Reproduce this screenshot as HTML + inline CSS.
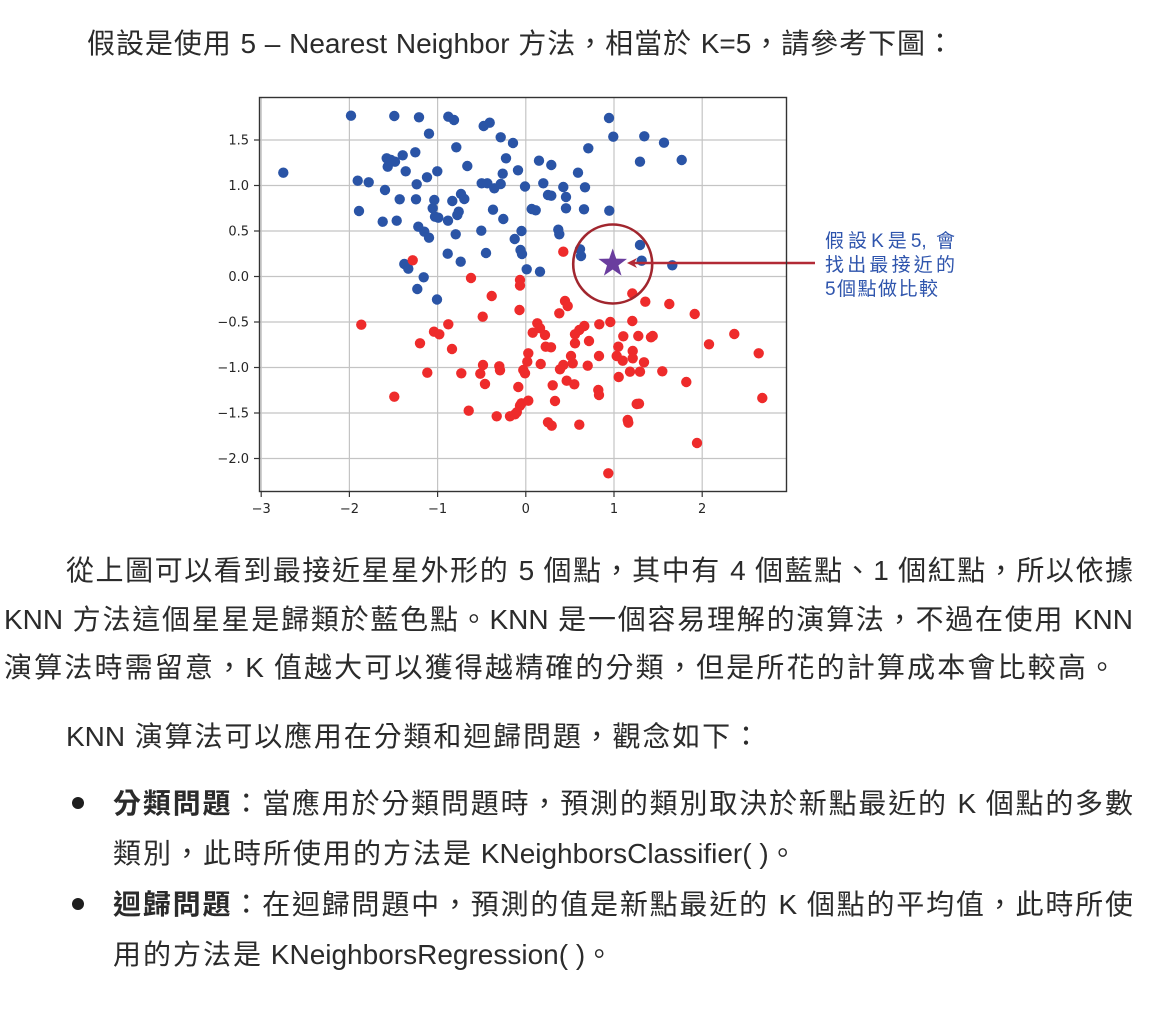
<!DOCTYPE html>
<html>
<head>
<meta charset="utf-8">
<style>
  html,body{margin:0;padding:0;background:#fff;}
  body{width:1167px;height:1019px;position:relative;overflow:hidden;
       font-family:"Liberation Sans","Noto Sans CJK TC",sans-serif;color:#2b2b2b;}
  .ln{position:absolute;font-size:28px;line-height:30px;height:30px;
      text-align:justify;text-align-last:justify;white-space:normal;}
  .ln.nat{text-align:left;text-align-last:left;white-space:nowrap;}
  .ln b{font-weight:bold;}
  .sp{letter-spacing:2px;}
  .bul{position:absolute;width:12px;height:12px;border-radius:50%;background:#1e1e1e;}
  .ann{position:absolute;left:825px;font-size:19px;line-height:24px;color:#2f55ad;
       font-family:"Liberation Sans","Noto Sans CJK TC",sans-serif;}
  .ann div{text-align:justify;text-align-last:justify;height:24px;}
  svg{position:absolute;left:0;top:0;}
</style>
</head>
<body>

<svg width="1167" height="530" viewBox="0 0 1167 530" xmlns="http://www.w3.org/2000/svg">
  <g stroke="#c4c4c4" stroke-width="1.2" fill="none">
    <line x1="261.2" y1="97.5" x2="261.2" y2="491.5"/>
    <line x1="349.4" y1="97.5" x2="349.4" y2="491.5"/>
    <line x1="437.6" y1="97.5" x2="437.6" y2="491.5"/>
    <line x1="525.8" y1="97.5" x2="525.8" y2="491.5"/>
    <line x1="614" y1="97.5" x2="614" y2="491.5"/>
    <line x1="702.2" y1="97.5" x2="702.2" y2="491.5"/>
    <line x1="259.5" y1="140" x2="786.5" y2="140"/>
    <line x1="259.5" y1="185.5" x2="786.5" y2="185.5"/>
    <line x1="259.5" y1="231" x2="786.5" y2="231"/>
    <line x1="259.5" y1="276.5" x2="786.5" y2="276.5"/>
    <line x1="259.5" y1="322" x2="786.5" y2="322"/>
    <line x1="259.5" y1="367.5" x2="786.5" y2="367.5"/>
    <line x1="259.5" y1="413" x2="786.5" y2="413"/>
    <line x1="259.5" y1="458.5" x2="786.5" y2="458.5"/>
  </g>

  <g fill="#2a54a6">
    <circle cx="283.3" cy="172.7" r="5.2"/>
    <circle cx="351" cy="115.7" r="5.2"/>
    <circle cx="394.3" cy="116" r="5.2"/>
    <circle cx="419" cy="117.3" r="5.2"/>
    <circle cx="448.3" cy="116.7" r="5.2"/>
    <circle cx="454" cy="120" r="5.2"/>
    <circle cx="483.7" cy="126" r="5.2"/>
    <circle cx="489.7" cy="122.7" r="5.2"/>
    <circle cx="429" cy="133.7" r="5.2"/>
    <circle cx="500.7" cy="137.3" r="5.2"/>
    <circle cx="513" cy="143" r="5.2"/>
    <circle cx="456.3" cy="147.3" r="5.2"/>
    <circle cx="415.3" cy="152.3" r="5.2"/>
    <circle cx="402.7" cy="155.3" r="5.2"/>
    <circle cx="386.7" cy="158.3" r="5.2"/>
    <circle cx="395" cy="161.7" r="5.2"/>
    <circle cx="387.7" cy="166.7" r="5.2"/>
    <circle cx="391" cy="160" r="5.2"/>
    <circle cx="405.7" cy="171.3" r="5.2"/>
    <circle cx="437.3" cy="171.3" r="5.2"/>
    <circle cx="427" cy="177.3" r="5.2"/>
    <circle cx="467.3" cy="166" r="5.2"/>
    <circle cx="506" cy="158.3" r="5.2"/>
    <circle cx="518" cy="170.3" r="5.2"/>
    <circle cx="502.7" cy="173.7" r="5.2"/>
    <circle cx="357.7" cy="180.7" r="5.2"/>
    <circle cx="368.7" cy="182.3" r="5.2"/>
    <circle cx="416.7" cy="184.3" r="5.2"/>
    <circle cx="481.7" cy="183.3" r="5.2"/>
    <circle cx="487.3" cy="183.3" r="5.2"/>
    <circle cx="494.3" cy="188.3" r="5.2"/>
    <circle cx="500.7" cy="184" r="5.2"/>
    <circle cx="525" cy="186.5" r="5.2"/>
    <circle cx="385" cy="190" r="5.2"/>
    <circle cx="399.7" cy="199.3" r="5.2"/>
    <circle cx="416" cy="199.3" r="5.2"/>
    <circle cx="434.3" cy="200" r="5.2"/>
    <circle cx="432.7" cy="208.3" r="5.2"/>
    <circle cx="435" cy="216.7" r="5.2"/>
    <circle cx="438.3" cy="217.7" r="5.2"/>
    <circle cx="452.3" cy="201" r="5.2"/>
    <circle cx="461" cy="194" r="5.2"/>
    <circle cx="464.3" cy="199" r="5.2"/>
    <circle cx="458.7" cy="211.7" r="5.2"/>
    <circle cx="457.3" cy="215" r="5.2"/>
    <circle cx="359" cy="211" r="5.2"/>
    <circle cx="493" cy="209.7" r="5.2"/>
    <circle cx="503.3" cy="219" r="5.2"/>
    <circle cx="382.7" cy="221.7" r="5.2"/>
    <circle cx="396.7" cy="220.7" r="5.2"/>
    <circle cx="448" cy="220.7" r="5.2"/>
    <circle cx="418.3" cy="226.7" r="5.2"/>
    <circle cx="424.3" cy="231.7" r="5.2"/>
    <circle cx="429" cy="237.7" r="5.2"/>
    <circle cx="455.7" cy="234.3" r="5.2"/>
    <circle cx="481.3" cy="230.7" r="5.2"/>
    <circle cx="514.7" cy="239" r="5.2"/>
    <circle cx="521.5" cy="231" r="5.2"/>
    <circle cx="520.5" cy="250" r="5.2"/>
    <circle cx="522" cy="254" r="5.2"/>
    <circle cx="447.7" cy="253.7" r="5.2"/>
    <circle cx="460.7" cy="261.7" r="5.2"/>
    <circle cx="486" cy="253" r="5.2"/>
    <circle cx="404.3" cy="264" r="5.2"/>
    <circle cx="408.3" cy="268.7" r="5.2"/>
    <circle cx="423.7" cy="277.3" r="5.2"/>
    <circle cx="417.3" cy="289" r="5.2"/>
    <circle cx="437" cy="299.5" r="5.2"/>
    <circle cx="526.7" cy="269.3" r="5.2"/>
    <circle cx="609" cy="118" r="5.2"/>
    <circle cx="613.3" cy="136.7" r="5.2"/>
    <circle cx="644.3" cy="136.3" r="5.2"/>
    <circle cx="664" cy="142.7" r="5.2"/>
    <circle cx="588.3" cy="148.3" r="5.2"/>
    <circle cx="640" cy="161.7" r="5.2"/>
    <circle cx="681.7" cy="160" r="5.2"/>
    <circle cx="539" cy="160.7" r="5.2"/>
    <circle cx="551.3" cy="165" r="5.2"/>
    <circle cx="578" cy="172.7" r="5.2"/>
    <circle cx="543.3" cy="183.3" r="5.2"/>
    <circle cx="563.3" cy="187" r="5.2"/>
    <circle cx="585" cy="187.3" r="5.2"/>
    <circle cx="548" cy="195" r="5.2"/>
    <circle cx="551.3" cy="195.7" r="5.2"/>
    <circle cx="566" cy="197" r="5.2"/>
    <circle cx="531.7" cy="209" r="5.2"/>
    <circle cx="535.7" cy="210.3" r="5.2"/>
    <circle cx="566" cy="208.3" r="5.2"/>
    <circle cx="584" cy="209.3" r="5.2"/>
    <circle cx="609.3" cy="210.7" r="5.2"/>
    <circle cx="558.3" cy="229.7" r="5.2"/>
    <circle cx="559.3" cy="234.3" r="5.2"/>
    <circle cx="580" cy="249.3" r="5.2"/>
    <circle cx="581" cy="256" r="5.2"/>
    <circle cx="640" cy="245" r="5.2"/>
    <circle cx="641.7" cy="260.7" r="5.2"/>
    <circle cx="672.3" cy="265.3" r="5.2"/>
    <circle cx="540" cy="271.7" r="5.2"/>
  </g>

  <g fill="#ee2b2b">
    <circle cx="412.7" cy="260.3" r="5.2"/>
    <circle cx="471" cy="278" r="5.2"/>
    <circle cx="520" cy="280" r="5.2"/>
    <circle cx="520" cy="285.5" r="5.2"/>
    <circle cx="491.7" cy="296" r="5.2"/>
    <circle cx="563.3" cy="251.7" r="5.2"/>
    <circle cx="632.3" cy="293.5" r="5.2"/>
    <circle cx="482.7" cy="316.7" r="5.2"/>
    <circle cx="519.5" cy="310" r="5.2"/>
    <circle cx="361.3" cy="324.7" r="5.2"/>
    <circle cx="448.3" cy="324.3" r="5.2"/>
    <circle cx="434" cy="331.7" r="5.2"/>
    <circle cx="439.3" cy="334.3" r="5.2"/>
    <circle cx="420" cy="343.3" r="5.2"/>
    <circle cx="452" cy="349" r="5.2"/>
    <circle cx="483" cy="365" r="5.2"/>
    <circle cx="480.3" cy="373.7" r="5.2"/>
    <circle cx="485" cy="384" r="5.2"/>
    <circle cx="427.3" cy="372.7" r="5.2"/>
    <circle cx="461.3" cy="373.3" r="5.2"/>
    <circle cx="499.3" cy="366.3" r="5.2"/>
    <circle cx="500" cy="370.3" r="5.2"/>
    <circle cx="518.3" cy="387" r="5.2"/>
    <circle cx="394.3" cy="396.7" r="5.2"/>
    <circle cx="468.7" cy="410.7" r="5.2"/>
    <circle cx="496.7" cy="416.3" r="5.2"/>
    <circle cx="510" cy="416.3" r="5.2"/>
    <circle cx="515" cy="414.3" r="5.2"/>
    <circle cx="520" cy="405.7" r="5.2"/>
    <circle cx="521.5" cy="403.3" r="5.2"/>
    <circle cx="516.8" cy="412.3" r="5.2"/>
    <circle cx="645.3" cy="301.7" r="5.2"/>
    <circle cx="669.3" cy="304" r="5.2"/>
    <circle cx="694.7" cy="314" r="5.2"/>
    <circle cx="565" cy="301" r="5.2"/>
    <circle cx="567.7" cy="306" r="5.2"/>
    <circle cx="559.3" cy="313.3" r="5.2"/>
    <circle cx="537.3" cy="323.3" r="5.2"/>
    <circle cx="540" cy="328.3" r="5.2"/>
    <circle cx="532.7" cy="332.7" r="5.2"/>
    <circle cx="545" cy="335" r="5.2"/>
    <circle cx="575" cy="334.3" r="5.2"/>
    <circle cx="579.3" cy="330" r="5.2"/>
    <circle cx="584.3" cy="326" r="5.2"/>
    <circle cx="599.3" cy="324.3" r="5.2"/>
    <circle cx="610.3" cy="322" r="5.2"/>
    <circle cx="632.3" cy="321" r="5.2"/>
    <circle cx="623.3" cy="336.3" r="5.2"/>
    <circle cx="638.3" cy="336" r="5.2"/>
    <circle cx="651" cy="337.3" r="5.2"/>
    <circle cx="652.7" cy="336" r="5.2"/>
    <circle cx="709" cy="344.3" r="5.2"/>
    <circle cx="734.3" cy="334" r="5.2"/>
    <circle cx="758.7" cy="353.3" r="5.2"/>
    <circle cx="575" cy="343.3" r="5.2"/>
    <circle cx="589" cy="341" r="5.2"/>
    <circle cx="545.7" cy="346.7" r="5.2"/>
    <circle cx="551" cy="347.3" r="5.2"/>
    <circle cx="599" cy="356" r="5.2"/>
    <circle cx="618.3" cy="346.7" r="5.2"/>
    <circle cx="616.7" cy="356" r="5.2"/>
    <circle cx="622.7" cy="360.7" r="5.2"/>
    <circle cx="632.7" cy="351" r="5.2"/>
    <circle cx="632.7" cy="358.3" r="5.2"/>
    <circle cx="644" cy="362.3" r="5.2"/>
    <circle cx="571" cy="356" r="5.2"/>
    <circle cx="572.7" cy="363.3" r="5.2"/>
    <circle cx="563.3" cy="365" r="5.2"/>
    <circle cx="560" cy="369.3" r="5.2"/>
    <circle cx="540.7" cy="364" r="5.2"/>
    <circle cx="528.3" cy="353.3" r="5.2"/>
    <circle cx="527.3" cy="361.7" r="5.2"/>
    <circle cx="523.3" cy="370" r="5.2"/>
    <circle cx="525" cy="373.3" r="5.2"/>
    <circle cx="587.7" cy="365.7" r="5.2"/>
    <circle cx="630" cy="371.7" r="5.2"/>
    <circle cx="640" cy="371.7" r="5.2"/>
    <circle cx="662.3" cy="371.3" r="5.2"/>
    <circle cx="686.3" cy="382" r="5.2"/>
    <circle cx="618.7" cy="377" r="5.2"/>
    <circle cx="566.7" cy="380.7" r="5.2"/>
    <circle cx="574.3" cy="384.3" r="5.2"/>
    <circle cx="552.7" cy="385.3" r="5.2"/>
    <circle cx="598.3" cy="390" r="5.2"/>
    <circle cx="599" cy="395" r="5.2"/>
    <circle cx="762.3" cy="398" r="5.2"/>
    <circle cx="555" cy="401" r="5.2"/>
    <circle cx="528.3" cy="400.7" r="5.2"/>
    <circle cx="636.7" cy="404" r="5.2"/>
    <circle cx="639" cy="403.7" r="5.2"/>
    <circle cx="627.7" cy="420" r="5.2"/>
    <circle cx="628.3" cy="422.7" r="5.2"/>
    <circle cx="548" cy="422.3" r="5.2"/>
    <circle cx="551.7" cy="425.7" r="5.2"/>
    <circle cx="579.3" cy="424.7" r="5.2"/>
    <circle cx="697" cy="443" r="5.2"/>
    <circle cx="608.3" cy="473.3" r="5.2"/>
  </g>

  <polygon fill="#6a3d9e" points="612.7,248.5 616.2,258.6 627.0,258.9 618.4,265.4 621.5,275.6 612.7,269.5 603.9,275.6 607.0,265.4 598.4,258.9 609.2,258.6"/>

  <circle cx="612.7" cy="264" r="39.5" fill="none" stroke="#a1262e" stroke-width="2.6"/>

  <line x1="633" y1="263" x2="815" y2="263" stroke="#b22a36" stroke-width="2.4"/>
  <polygon fill="#b22a36" points="627,263 637,258 634,263 637,268"/>

  <rect x="259.5" y="97.5" width="527" height="394" fill="none" stroke="#333" stroke-width="1.4"/>

  <g stroke="#333" stroke-width="1.2">
    <line x1="254" y1="140" x2="259.5" y2="140"/>
    <line x1="254" y1="185.5" x2="259.5" y2="185.5"/>
    <line x1="254" y1="231" x2="259.5" y2="231"/>
    <line x1="254" y1="276.5" x2="259.5" y2="276.5"/>
    <line x1="254" y1="322" x2="259.5" y2="322"/>
    <line x1="254" y1="367.5" x2="259.5" y2="367.5"/>
    <line x1="254" y1="413" x2="259.5" y2="413"/>
    <line x1="254" y1="458.5" x2="259.5" y2="458.5"/>
    <line x1="261.2" y1="491.5" x2="261.2" y2="497"/>
    <line x1="349.4" y1="491.5" x2="349.4" y2="497"/>
    <line x1="437.6" y1="491.5" x2="437.6" y2="497"/>
    <line x1="525.8" y1="491.5" x2="525.8" y2="497"/>
    <line x1="614" y1="491.5" x2="614" y2="497"/>
    <line x1="702.2" y1="491.5" x2="702.2" y2="497"/>
  </g>

  <g font-family="'DejaVu Sans', 'Liberation Sans', sans-serif" font-size="13" fill="#262626">
    <g text-anchor="end">
      <text x="249" y="144.7">1.5</text>
      <text x="249" y="190.2">1.0</text>
      <text x="249" y="235.7">0.5</text>
      <text x="249" y="281.2">0.0</text>
      <text x="249" y="326.7">−0.5</text>
      <text x="249" y="372.2">−1.0</text>
      <text x="249" y="417.7">−1.5</text>
      <text x="249" y="463.2">−2.0</text>
    </g>
    <g text-anchor="middle">
      <text x="261.2" y="513">−3</text>
      <text x="349.4" y="513">−2</text>
      <text x="437.6" y="513">−1</text>
      <text x="525.8" y="513">0</text>
      <text x="614" y="513">1</text>
      <text x="702.2" y="513">2</text>
    </g>
  </g>
</svg>

<div class="ann" style="top:230px;">
  <div style="width:130px;">假設K是5, 會</div>
  <div style="width:130px;">找出最接近的</div>
  <div style="width:113px;">5個點做比較</div>
</div>

<div class="ln" style="left:87px;top:29px;width:867px;">假設是使用 5 – Nearest Neighbor 方法，相當於 K=5，請參考下圖：</div>

<div class="ln" style="left:66px;top:556px;width:1067px;">從上圖可以看到最接近星星外形的 5 個點，其中有 4 個藍點、1 個紅點，所以依據</div>
<div class="ln" style="left:4px;top:605px;width:1129px;">KNN 方法這個星星是歸類於藍色點。KNN 是一個容易理解的演算法，不過在使用 KNN</div>
<div class="ln" style="left:4px;top:653px;width:1112px;">演算法時需留意，K 值越大可以獲得越精確的分類，但是所花的計算成本會比較高。</div>

<div class="ln" style="left:66px;top:722px;width:694px;">KNN 演算法可以應用在分類和迴歸問題，觀念如下：</div>

<div class="bul" style="left:72px;top:797px;"></div>
<div class="ln" style="left:113px;top:789px;width:1020px;"><b>分類問題</b>：當應用於分類問題時，預測的類別取決於新點最近的 K 個點的多數</div>
<div class="ln nat" style="left:113px;top:839px;width:720px;"><span class="sp">類別，此時所使用的方法是</span> KNeighborsClassifier( )。</div>

<div class="bul" style="left:72px;top:898px;"></div>
<div class="ln" style="left:113px;top:890px;width:1020px;"><b>迴歸問題</b>：在迴歸問題中，預測的值是新點最近的 K 個點的平均值，此時所使</div>
<div class="ln nat" style="left:113px;top:940px;width:560px;"><span class="sp">用的方法是</span> KNeighborsRegression( )。</div>

</body>
</html>
